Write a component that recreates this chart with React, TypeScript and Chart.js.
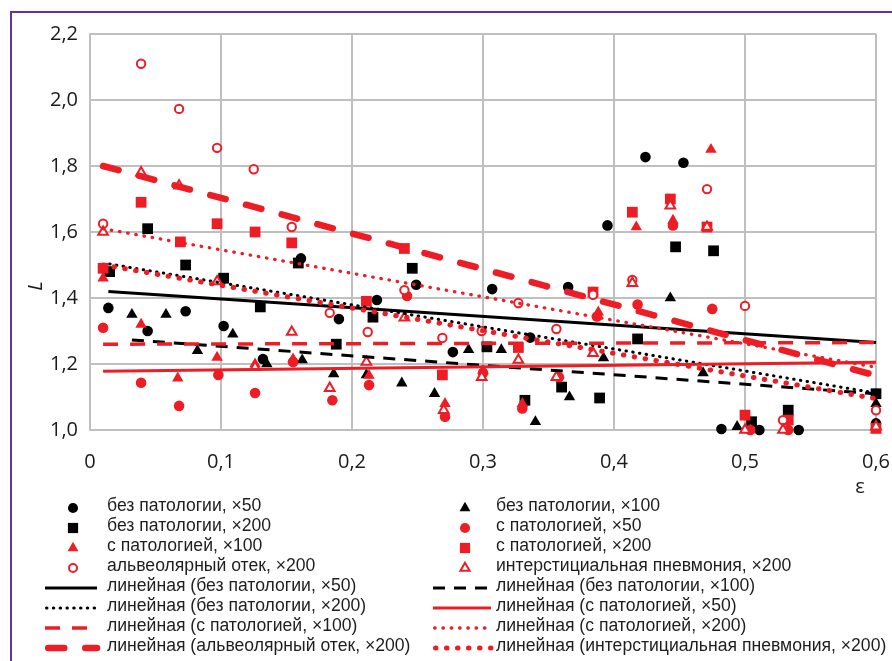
import React, { useEffect, useRef } from 'react';
import { Chart, registerables } from 'chart.js';

Chart.register(...registerables);

// ---------- data ----------
const xTickValues = [0, 0.1, 0.2, 0.3, 0.4, 0.5, 0.6];
const yTickValues = [1.0, 1.2, 1.4, 1.6, 1.8, 2.0, 2.2];

const normal50: [number, number][] = [
  [0.014, 1.37], [0.044, 1.30], [0.073, 1.36], [0.102, 1.315], [0.132, 1.215],
  [0.161, 1.52], [0.190, 1.336], [0.219, 1.394], [0.249, 1.44], [0.277, 1.236],
  [0.307, 1.427], [0.336, 1.28], [0.365, 1.433], [0.395, 1.62], [0.424, 1.827],
  [0.453, 1.81], [0.482, 1.003], [0.511, 1.0], [0.541, 1.0], [0.6, 1.02],
];
const normal100: [number, number][] = [
  [0.032, 1.35], [0.058, 1.35], [0.082, 1.24], [0.109, 1.29], [0.135, 1.20],
  [0.162, 1.212], [0.186, 1.17], [0.211, 1.167], [0.238, 1.142], [0.263, 1.11],
  [0.289, 1.243], [0.314, 1.243], [0.340, 1.025], [0.366, 1.10], [0.392, 1.218],
  [0.443, 1.40], [0.468, 1.173], [0.494, 1.01], [0.6, 1.08],
];
const normal200: [number, number][] = [
  [0.015, 1.48], [0.044, 1.61], [0.073, 1.50], [0.102, 1.46], [0.130, 1.373],
  [0.159, 1.506], [0.188, 1.26], [0.216, 1.342], [0.246, 1.49], [0.303, 1.252],
  [0.332, 1.09], [0.360, 1.13], [0.389, 1.097], [0.418, 1.276], [0.447, 1.555],
  [0.476, 1.543], [0.505, 1.025], [0.533, 1.06], [0.6, 1.11],
];
const path50: [number, number][] = [
  [0.010, 1.31], [0.039, 1.143], [0.068, 1.073], [0.098, 1.167], [0.126, 1.112],
  [0.155, 1.206], [0.185, 1.09], [0.213, 1.136], [0.242, 1.406], [0.271, 1.04],
  [0.300, 1.173], [0.330, 1.065], [0.358, 1.16], [0.387, 1.344], [0.418, 1.38],
  [0.445, 1.62], [0.475, 1.367], [0.504, 1.0], [0.533, 1.0],
];
const path100: [number, number][] = [
  [0.010, 1.46], [0.039, 1.32], [0.067, 1.157], [0.097, 1.22], [0.126, 1.20],
  [0.155, 1.215], [0.213, 1.165], [0.271, 1.08], [0.300, 1.18], [0.330, 1.08],
  [0.388, 1.357], [0.417, 1.615], [0.445, 1.635], [0.474, 1.85], [0.504, 1.0],
  [0.6, 1.0],
];
const path200: [number, number][] = [
  [0.010, 1.49], [0.039, 1.69], [0.069, 1.57], [0.097, 1.625], [0.126, 1.60],
  [0.154, 1.567], [0.211, 1.39], [0.240, 1.55], [0.269, 1.167], [0.327, 1.25],
  [0.384, 1.418], [0.414, 1.66], [0.443, 1.70], [0.471, 1.615], [0.5, 1.045],
  [0.533, 1.03], [0.6, 1.005],
];
const alveolar200: [number, number][] = [
  [0.010, 1.625], [0.039, 2.11], [0.068, 1.973], [0.097, 1.855], [0.125, 1.79],
  [0.154, 1.615], [0.183, 1.355], [0.212, 1.297], [0.240, 1.424], [0.269, 1.279],
  [0.299, 1.30], [0.327, 1.385], [0.356, 1.306], [0.384, 1.41], [0.414, 1.455],
  [0.471, 1.73], [0.5, 1.376], [0.529, 1.03], [0.6, 1.06],
];
const interstitial200: [number, number][] = [
  [0.010, 1.60], [0.039, 1.78], [0.068, 1.74], [0.097, 1.45], [0.126, 1.19],
  [0.154, 1.297], [0.183, 1.127], [0.211, 1.206], [0.240, 1.34], [0.270, 1.06],
  [0.299, 1.16], [0.327, 1.212], [0.356, 1.16], [0.384, 1.233], [0.414, 1.445],
  [0.443, 1.68], [0.471, 1.615], [0.5, 1.0], [0.529, 1.0], [0.6, 1.01],
];

// linear trend lines (start and end values)
const trendNormal50: [number, number][] = [[0.014, 1.42], [0.6, 1.265]];
const trendNormal100: [number, number][] = [[0.032, 1.273], [0.6, 1.11]];
const trendNormal200: [number, number][] = [[0.015, 1.503], [0.6, 1.112]];
const trendPath50: [number, number][] = [[0.010, 1.178], [0.6, 1.205]];
const trendPath100: [number, number][] = [[0.010, 1.26], [0.6, 1.265]];
const trendPath200: [number, number][] = [[0.010, 1.61], [0.6, 1.19]];
const trendAlveolar200: [number, number][] = [[0.010, 1.80], [0.6, 1.165]];
const trendInterstitial200: [number, number][] = [[0.010, 1.50], [0.6, 1.095]];

const pointLabels = [
  'без патологии, ×50',
  'без патологии, ×100',
  'без патологии, ×200',
  'с патологией, ×50',
  'с патологией, ×100',
  'с патологией, ×200',
  'альвеолярный отек, ×200',
  'интерстициальная пневмония, ×200',
];
const trendLabels = [
  'линейная (без патологии, ×50)',
  'линейная (без патологии, ×100)',
  'линейная (без патологии, ×200)',
  'линейная (с патологией, ×50)',
  'линейная (с патологией, ×100)',
  'линейная (с патологией, ×200)',
  'линейная (альвеолярный отек, ×200)',
  'линейная (интерстициальная пневмония, ×200)',
];

// ---------- styles ----------
const RED = '#ee1c25';
const BLACK = '#000000';
const GRID = '#bfbfbf';
const PURPLE = '#663399';

type Shape = 'circle' | 'triangle' | 'rect';
const pointStyles: { shape: Shape; color: string; filled: boolean; r: number }[] = [
  { shape: 'circle', color: BLACK, filled: true, r: 5.3 },
  { shape: 'triangle', color: BLACK, filled: true, r: 6.6 },
  { shape: 'rect', color: BLACK, filled: true, r: 7.6 },
  { shape: 'circle', color: RED, filled: true, r: 5.3 },
  { shape: 'triangle', color: RED, filled: true, r: 6.6 },
  { shape: 'rect', color: RED, filled: true, r: 7.6 },
  { shape: 'circle', color: RED, filled: false, r: 4.2 },
  { shape: 'triangle', color: RED, filled: false, r: 5.6 },
];
const trendStyles: { color: string; width: number; dash: number[]; cap: CanvasLineCap }[] = [
  { color: BLACK, width: 3, dash: [], cap: 'butt' },
  { color: BLACK, width: 3, dash: [12, 9], cap: 'butt' },
  { color: BLACK, width: 3, dash: [0.5, 6.3], cap: 'round' },
  { color: RED, width: 3, dash: [], cap: 'butt' },
  { color: RED, width: 3.5, dash: [15, 12], cap: 'butt' },
  { color: RED, width: 3.3, dash: [0.5, 7.8], cap: 'round' },
  { color: RED, width: 6.5, dash: [16, 21], cap: 'round' },
  { color: RED, width: 5, dash: [0.5, 10.5], cap: 'round' },
];

const pointData = [normal50, normal100, normal200, path50, path100, path200, alveolar200, interstitial200];
const trendData = [trendNormal50, trendNormal100, trendNormal200, trendPath50, trendPath100, trendPath200, trendAlveolar200, trendInterstitial200];

const fmt = (v: number, zeroPlain: boolean) => {
  if (zeroPlain && Math.abs(v) < 1e-9) return '0';
  return v.toFixed(1).replace('.', ',');
};

function drawMarker(ctx: CanvasRenderingContext2D, shape: Shape, x: number, y: number, r: number, color: string, filled: boolean) {
  ctx.save();
  ctx.beginPath();
  if (shape === 'circle') {
    ctx.arc(x, y, r, 0, Math.PI * 2);
  } else if (shape === 'rect') {
    const s = Math.SQRT1_2 * r;
    ctx.rect(x - s, y - s, 2 * s, 2 * s);
  } else {
    let a = 0;
    ctx.moveTo(x + Math.sin(a) * r, y - Math.cos(a) * r);
    a += (2 * Math.PI) / 3;
    ctx.lineTo(x + Math.sin(a) * r, y - Math.cos(a) * r);
    a += (2 * Math.PI) / 3;
    ctx.lineTo(x + Math.sin(a) * r, y - Math.cos(a) * r);
    ctx.closePath();
  }
  if (filled) {
    ctx.fillStyle = color;
    ctx.fill();
  } else {
    ctx.fillStyle = '#ffffff';
    ctx.fill();
    ctx.lineWidth = 2;
    ctx.strokeStyle = color;
    ctx.stroke();
  }
  ctx.restore();
}

const decorPlugin = {
  id: 'decor',
  beforeDraw(chart: any) {
    const ctx: CanvasRenderingContext2D = chart.ctx;
    ctx.save();
    ctx.fillStyle = '#ffffff';
    ctx.fillRect(0, 0, chart.width, chart.height);
    ctx.fillStyle = PURPLE;
    ctx.fillRect(10, 11, chart.width - 10, 2);
    ctx.fillRect(10, 11, 2, chart.height - 11);
    ctx.restore();
  },
  afterDraw(chart: any) {
    const ctx: CanvasRenderingContext2D = chart.ctx;
    const area = chart.chartArea;
    ctx.save();
    // axis titles
    ctx.fillStyle = '#1a1a1a';
    ctx.font = 'italic 20px "Open Sans"';
    ctx.textAlign = 'center';
    ctx.textBaseline = 'middle';
    ctx.translate(36, 286);
    ctx.rotate(-Math.PI / 2);
    ctx.fillText('L', 0, 0);
    ctx.setTransform(1, 0, 0, 1, 0, 0);
    ctx.font = '20px "Open Sans"';
    ctx.fillText('ε', area.right - 16, 487);

    // legend
    const items: { label: string; kind: 'p' | 't'; idx: number }[] = [];
    pointLabels.forEach((l, i) => items.push({ label: l, kind: 'p', idx: i }));
    trendLabels.forEach((l, i) => items.push({ label: l, kind: 't', idx: i }));
    const cols = [
      { mx: 73, lx0: 45, lx1: 97, tx: 107 },
      { mx: 465, lx0: 433, lx1: 491, tx: 496 },
    ];
    ctx.font = '17.6px "Liberation Sans"';
    ctx.textAlign = 'left';
    ctx.textBaseline = 'middle';
    items.forEach((it, k) => {
      const row = Math.floor(k / 2);
      const c = cols[k % 2];
      const y = 507 + row * 20;
      if (it.kind === 'p') {
        const st = pointStyles[it.idx];
        drawMarker(ctx, st.shape, c.mx, y + 1, st.r * 0.95, st.color, st.filled);
      } else {
        const st = trendStyles[it.idx];
        ctx.save();
        ctx.beginPath();
        ctx.strokeStyle = st.color;
        ctx.lineWidth = st.width;
        ctx.lineCap = st.cap;
        ctx.setLineDash(st.dash);
        ctx.moveTo(c.lx0 + (st.cap === 'round' ? st.width / 2 : 0), y + 1);
        ctx.lineTo(c.lx1, y + 1);
        ctx.stroke();
        ctx.restore();
      }
      ctx.fillStyle = '#1e1e1e';
      ctx.fillText(it.label, c.tx, y - 1);
    });
    ctx.restore();
  },
};

export default function App() {
  const ref = useRef<HTMLCanvasElement | null>(null);

  useEffect(() => {
    if (!ref.current) return;
    const datasets: any[] = [];
    pointData.forEach((d, i) => {
      const st = pointStyles[i];
      datasets.push({
        label: pointLabels[i],
        data: d.map(([x, y]) => ({ x, y })),
        showLine: false,
        pointStyle: st.shape,
        pointRadius: st.r,
        pointHoverRadius: st.r,
        backgroundColor: st.filled ? st.color : '#ffffff',
        borderColor: st.color,
        borderWidth: st.filled ? 0 : 2,
        order: 20 - i,
        clip: false,
      });
    });
    trendData.forEach((d, i) => {
      const st = trendStyles[i];
      datasets.push({
        label: trendLabels[i],
        data: d.map(([x, y]) => ({ x, y })),
        showLine: true,
        pointRadius: 0,
        pointHoverRadius: 0,
        borderColor: st.color,
        backgroundColor: st.color,
        borderWidth: st.width,
        borderDash: st.dash,
        borderCapStyle: st.cap,
        fill: false,
        order: 1 + (7 - i) * 0.01,
        clip: false,
      });
    });

    const chart = new Chart(ref.current, {
      type: 'scatter',
      data: { datasets },
      options: {
        animation: false,
        responsive: false,
        maintainAspectRatio: false,
        events: [],
        layout: { padding: { left: 18, top: 34, right: 16, bottom: 167 } },
        plugins: { legend: { display: false }, tooltip: { enabled: false } },
        scales: {
          x: {
            type: 'linear',
            min: 0,
            max: 0.6,
            afterFit: (s: any) => {
              s.height = 64;
              s.paddingLeft = 0;
              s.paddingRight = 0;
            },
            afterBuildTicks: (s: any) => { s.ticks = xTickValues.map((v) => ({ value: v })); },
            ticks: {
              callback: (v: any) => fmt(Number(v), true),
              font: { family: '"Open Sans"', size: 20 },
              color: '#1a1a1a',
              padding: 20,
              maxRotation: 0,
              autoSkip: false,
            },
            grid: { color: GRID, lineWidth: 2, drawTicks: false },
            border: { color: GRID, width: 2 },
          },
          y: {
            type: 'linear',
            min: 1.0,
            max: 2.2,
            afterFit: (s: any) => {
              s.width = 72;
              s.paddingTop = 0;
              s.paddingBottom = 0;
            },
            afterBuildTicks: (s: any) => { s.ticks = yTickValues.map((v) => ({ value: v })); },
            ticks: {
              callback: (v: any) => fmt(Number(v), false),
              font: { family: '"Open Sans"', size: 20 },
              color: '#1a1a1a',
              padding: 12,
              autoSkip: false,
            },
            grid: { color: GRID, lineWidth: 2, drawTicks: false },
            border: { color: GRID, width: 2 },
          },
        },
      },
      plugins: [decorPlugin],
    });
    return () => chart.destroy();
  }, []);

  return (
    <div style={{ position: 'fixed', left: 0, top: 0, width: 892, height: 661, background: '#fff' }}>
      <canvas ref={ref} width={892} height={661} style={{ width: 892, height: 661, display: 'block' }} />
    </div>
  );
}
